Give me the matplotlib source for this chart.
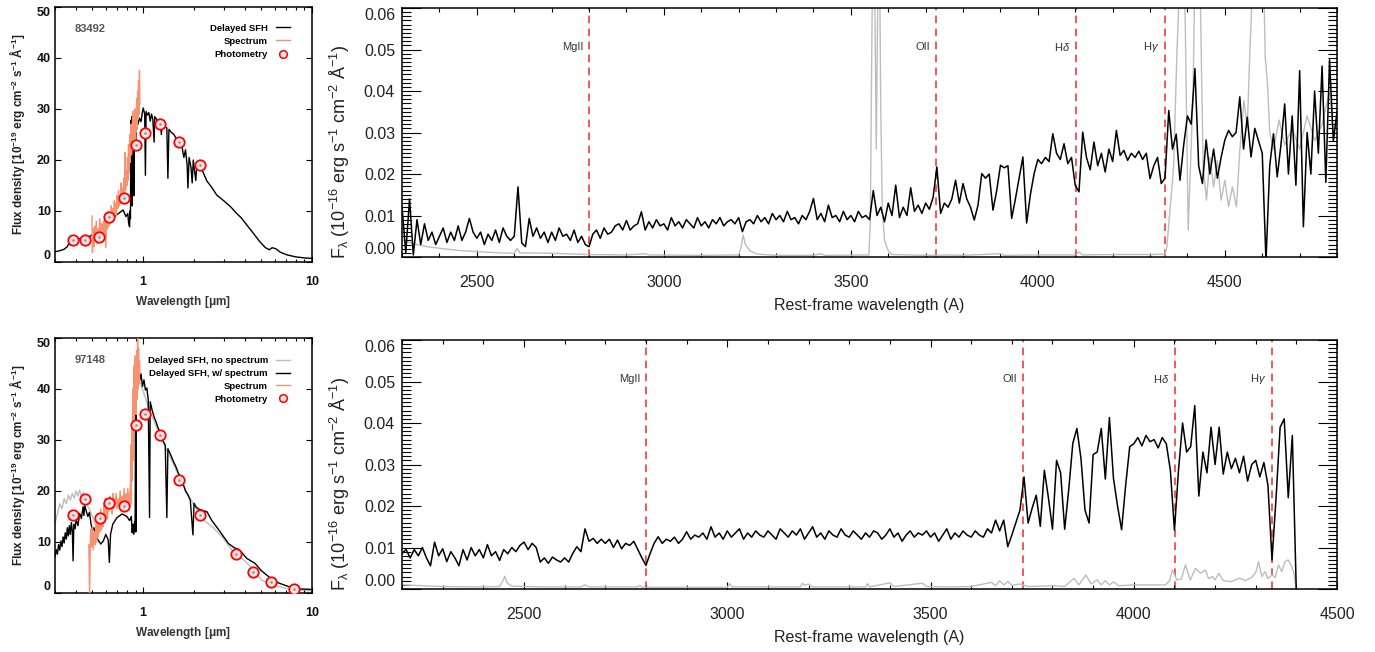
import numpy as np
import matplotlib
matplotlib.use('Agg')
import matplotlib.pyplot as plt
from matplotlib.ticker import (MultipleLocator, FixedLocator, FixedFormatter,
                               NullFormatter, LogLocator, FormatStrFormatter)
from matplotlib.lines import Line2D

plt.rcParams['font.family'] = ['Liberation Sans', 'DejaVu Sans']
plt.rcParams['mathtext.fontset'] = 'custom'
plt.rcParams['mathtext.rm'] = 'Liberation Sans'
plt.rcParams['mathtext.it'] = 'Liberation Sans:italic'
plt.rcParams['mathtext.bf'] = 'Liberation Sans:bold'
plt.rcParams['mathtext.default'] = 'regular'

ORANGE = '#f5926f'
GREY = '#bdbdbd'
RED = '#f02b2b'

# ---------------- galaxy 83492: SED (micron, 1e-19 erg/cm2/s/A) ----------------
tl_model = [(0.30, 2.0), (0.32, 2.2), (0.34, 2.5), (0.355, 3.0), (0.365, 3.9), (0.37, 3.3),
            (0.38, 4.0), (0.40, 4.2), (0.42, 4.6), (0.44, 4.4), (0.46, 4.9), (0.48, 5.0),
            (0.50, 5.3), (0.53, 5.9), (0.56, 6.5), (0.60, 7.3), (0.64, 8.2), (0.68, 9.0),
            (0.72, 9.6), (0.76, 10.2), (0.79, 8.9), (0.81, 9.5), (0.82, 7.5), (0.83, 6.9),
            (0.835, 10.0), (0.84, 8.5), (0.845, 27.8), (0.85, 25.0), (0.855, 28.5), (0.86, 11.0),
            (0.865, 27.0), (0.875, 28.6), (0.88, 13.0), (0.885, 28.0), (0.895, 27.0), (0.90, 22.0),
            (0.91, 27.5), (0.93, 27.0), (0.95, 28.2), (0.97, 27.5), (0.99, 29.5), (1.00, 30.2),
            (1.02, 29.0), (1.03, 17.0), (1.04, 29.5), (1.06, 28.8), (1.08, 29.3), (1.10, 27.6),
            (1.12, 29.0), (1.14, 28.0), (1.16, 23.5), (1.17, 28.5), (1.20, 28.0), (1.23, 27.3),
            (1.26, 27.8), (1.28, 25.0), (1.30, 27.2), (1.34, 26.5), (1.38, 26.3), (1.40, 16.4),
            (1.42, 26.0), (1.46, 25.5), (1.52, 25.0), (1.58, 24.0), (1.64, 23.2), (1.70, 22.5),
            (1.74, 20.5), (1.78, 22.0), (1.82, 19.0), (1.84, 14.5), (1.87, 20.5), (1.92, 18.5),
            (1.95, 15.5), (1.98, 20.0), (2.02, 17.5), (2.05, 16.0), (2.08, 19.5), (2.15, 19.2),
            (2.25, 17.8), (2.38, 15.9), (2.55, 14.6), (2.73, 13.1), (3.0, 12.0), (3.3, 10.8),
            (3.58, 9.5), (3.8, 8.7), (4.1, 7.3), (4.5, 5.6), (4.9, 4.0), (5.3, 2.8), (5.6, 2.4),
            (5.8, 2.8), (6.1, 2.6), (6.5, 1.9), (7.1, 1.4), (8.0, 1.0), (9.0, 0.8), (10.0, 0.7)]

tl_spec = [(0.497, 9.0), (0.50, 1.8), (0.505, 6.5), (0.51, 3.0), (0.515, 7.0), (0.52, 4.0),
           (0.527, 8.0), (0.533, 3.5), (0.54, 6.5), (0.546, 4.5), (0.553, 8.5), (0.56, 5.0),
           (0.566, 7.5), (0.572, 4.0), (0.58, 8.0), (0.587, 5.5), (0.594, 9.0), (0.60, 2.8),
           (0.607, 8.5), (0.614, 6.5), (0.62, 10.0), (0.627, 7.0), (0.634, 9.5), (0.64, 7.5),
           (0.647, 11.0), (0.654, 8.5), (0.66, 10.5), (0.667, 8.0), (0.674, 12.0), (0.68, 9.5),
           (0.687, 11.5), (0.694, 9.0), (0.70, 13.0), (0.707, 10.5), (0.714, 14.0), (0.72, 11.0),
           (0.727, 13.0), (0.734, 11.5), (0.74, 15.5), (0.747, 12.5), (0.754, 14.5), (0.76, 12.0),
           (0.767, 16.5), (0.774, 13.0), (0.78, 21.5), (0.786, 14.0), (0.792, 18.0), (0.80, 15.0),
           (0.806, 20.5), (0.812, 16.0), (0.818, 23.0), (0.825, 17.5), (0.832, 25.0), (0.838, 19.5),
           (0.845, 27.0), (0.852, 21.0), (0.86, 25.5), (0.866, 29.6), (0.872, 22.0), (0.878, 28.5),
           (0.884, 24.0), (0.89, 30.0), (0.896, 23.0), (0.902, 29.0), (0.908, 25.5), (0.914, 32.0),
           (0.92, 26.0), (0.926, 33.5), (0.932, 28.0), (0.938, 35.5), (0.944, 29.0), (0.95, 37.5),
           (0.955, 31.0)]

tl_phot_wave = [0.384, 0.449, 0.549, 0.629, 0.769, 0.909, 1.018, 1.249, 1.633, 2.175]
tl_phot_flux = [4.3, 4.4, 4.8, 8.8, 12.5, 23.0, 25.2, 27.1, 23.5, 19.1]

# ---------------- galaxy 97148: SED ----------------
bl_nospec = [(0.30, 13.7), (0.31, 15.5), (0.32, 17.5), (0.33, 16.5), (0.34, 18.5), (0.35, 17.5),
             (0.36, 19.2), (0.37, 18.2), (0.38, 19.5), (0.39, 18.6), (0.40, 20.0), (0.41, 19.0),
             (0.42, 20.2), (0.43, 18.8), (0.44, 19.8), (0.45, 18.7), (0.46, 17.9), (0.47, 17.0),
             (0.48, 16.4), (0.50, 15.0), (0.52, 13.6), (0.54, 13.2), (0.56, 14.2), (0.58, 15.6),
             (0.60, 17.0), (0.62, 18.0), (0.64, 18.6), (0.66, 18.2), (0.70, 17.6), (0.75, 17.2),
             (0.80, 17.6), (0.84, 17.0), (0.86, 29.0), (0.88, 37.5), (0.90, 41.5), (0.92, 43.5),
             (0.95, 41.5), (1.0, 39.5), (1.1, 35.5), (1.2, 32.5), (1.3, 29.8), (1.5, 25.5),
             (1.7, 21.5), (2.0, 17.2), (2.3, 14.2), (2.6, 12.8), (3.0, 10.6), (3.4, 8.1),
             (4.0, 6.3), (4.5, 4.6), (5.0, 2.6), (5.5, 1.9), (6.0, 1.5), (7.0, 0.9), (8.0, 0.6),
             (10.0, 0.4)]

bl_model = [(0.30, 7.1), (0.305, 8.5), (0.31, 7.6), (0.315, 9.5), (0.32, 8.4), (0.325, 10.2),
            (0.33, 9.1), (0.335, 11.0), (0.34, 9.8), (0.345, 11.8), (0.35, 10.6), (0.355, 12.8),
            (0.36, 11.2), (0.365, 13.2), (0.37, 11.5), (0.375, 13.8), (0.38, 12.2), (0.384, 6.3),
            (0.388, 13.5), (0.395, 12.6), (0.40, 14.5), (0.41, 13.2), (0.42, 15.6), (0.43, 14.6),
            (0.44, 16.9), (0.445, 15.2), (0.45, 17.2), (0.46, 16.0), (0.47, 15.0), (0.48, 15.8),
            (0.49, 13.6), (0.50, 12.4), (0.51, 12.8), (0.52, 11.2), (0.54, 10.4), (0.56, 9.6),
            (0.58, 10.2), (0.60, 11.5), (0.62, 10.4), (0.63, 6.0), (0.64, 11.5), (0.66, 13.5),
            (0.70, 14.8), (0.75, 15.5), (0.80, 15.0), (0.83, 14.2), (0.85, 15.0), (0.86, 11.8),
            (0.87, 13.5), (0.88, 11.5), (0.89, 14.0), (0.895, 12.0), (0.90, 36.0), (0.905, 12.0),
            (0.91, 42.0), (0.918, 45.4), (0.925, 40.5), (0.935, 43.5), (0.95, 41.5), (0.97, 43.0),
            (0.99, 40.5), (1.01, 41.8), (1.03, 39.8), (1.05, 40.2), (1.07, 38.0), (1.09, 14.8),
            (1.10, 37.5), (1.13, 35.8), (1.16, 34.5), (1.19, 33.6), (1.22, 32.5), (1.25, 31.8),
            (1.28, 30.5), (1.31, 29.8), (1.35, 29.0), (1.38, 14.8), (1.40, 28.3), (1.45, 27.2),
            (1.50, 26.0), (1.56, 24.8), (1.62, 23.4), (1.66, 22.8), (1.72, 21.5), (1.78, 20.0),
            (1.84, 19.2), (1.90, 18.2), (1.97, 11.4), (2.00, 17.6), (2.06, 16.8), (2.15, 16.4),
            (2.25, 16.2), (2.39, 15.9), (2.55, 14.2), (2.8, 12.4), (3.0, 11.0), (3.2, 9.7),
            (3.45, 8.9), (3.65, 8.6), (3.8, 8.1), (4.1, 6.8), (4.6, 5.8), (5.0, 4.4), (5.4, 3.5),
            (5.8, 2.7), (6.3, 2.0), (6.8, 1.6), (7.5, 1.1), (8.5, 0.8), (10.0, 0.7)]

bl_spec = [(0.476, 9.5), (0.481, -0.5), (0.486, 10.5), (0.49, 12.5), (0.495, 9.0), (0.50, 13.0),
           (0.506, 8.5), (0.512, 12.0), (0.518, 9.5), (0.524, 13.5), (0.53, 10.0), (0.536, 14.0),
           (0.542, 11.0), (0.548, 15.0), (0.554, 12.0), (0.56, 16.5), (0.566, 12.5), (0.572, 15.5),
           (0.578, 13.0), (0.584, 17.5), (0.59, 14.0), (0.596, 18.5), (0.602, 15.0), (0.608, 17.0),
           (0.614, 14.5), (0.62, 18.5), (0.627, 16.0), (0.634, 19.0), (0.64, 16.5), (0.647, 18.0),
           (0.654, 15.5), (0.66, 19.5), (0.667, 16.5), (0.674, 18.5), (0.68, 17.0), (0.69, 19.5),
           (0.70, 16.5), (0.71, 18.5), (0.72, 17.0), (0.73, 20.0), (0.74, 16.5), (0.75, 19.0),
           (0.76, 17.5), (0.77, 20.5), (0.78, 16.0), (0.79, 19.5), (0.80, 17.0), (0.81, 20.5),
           (0.82, 16.5), (0.83, 19.5), (0.84, 21.0), (0.845, 29.0), (0.85, 17.5), (0.855, 33.0),
           (0.86, 22.0), (0.866, 40.0), (0.872, 26.0), (0.878, 44.5), (0.884, 33.0), (0.89, 46.5),
           (0.896, 37.0), (0.902, 44.0), (0.908, 35.0), (0.914, 47.5), (0.92, 38.0), (0.926, 50.5),
           (0.932, 40.0), (0.938, 48.0), (0.944, 41.0), (0.95, 45.5), (0.955, 43.0)]

bl_phot_wave = [0.385, 0.449, 0.552, 0.629, 0.769, 0.909, 1.018, 1.249, 1.633, 2.175,
                3.53, 4.46, 5.70, 7.82]
bl_phot_flux = [15.2, 18.4, 14.8, 17.6, 17.1, 32.9, 35.0, 31.0, 22.1, 15.2,
                7.6, 4.2, 2.1, 0.8]

# ---------------- rest-frame spectra (1e-3 x 1e-16 erg/s/cm2/A), 10 A bins ----------------
tr_wave = np.arange(2300, 4801, 10)
tr_flux = [12, 1, 14, 0.5, 9, 3, 8, 4, 6, 3,
           5, 7, 3.5, 6, 4, 7.5, 4, 6, 9.3, 6,
           4.5, 6, 3, 5.5, 4, 6.5, 3.5, 7, 5, 4,
           5, 16.9, 3.4, 2.5, 9.3, 5, 7, 4.5, 6, 3.5,
           6, 4, 7, 5, 5.5, 4, 6.5, 3.5, 5, 3,
           2.5, 5.5, 6.5, 4.5, 7, 5.5, 6, 7.5, 8, 6.5,
           8.8, 6.5, 7.5, 8, 10.9, 6.5, 8.5, 7, 9, 7.5,
           8, 6.5, 9.5, 7.5, 8.5, 7, 9, 8, 7, 9.5,
           7.5, 8.5, 7, 9, 8, 9.5, 7.5, 8.5, 9, 8,
           9.5, 6.1, 8.5, 9, 8, 10, 8.5, 9.5, 8, 10.5,
           9, 10, 8.5, 11, 9, 9.5, 8, 10, 9, 11,
           14.1, 9, 10.5, 8.5, 12.5, 9.5, 10, 8.5, 11, 9,
           10, 8.5, 11, 9.5, 10, 9, 16, 10, 12, 8.5,
           13, 10, 17.3, 9.5, 12, 10, 16.7, 11, 12.5, 10.5,
           13, 11.5, 14.4, 21.7, 10.5, 13, 12, 14, 18.5, 13,
           17.7, 14, 12, 8.9, 12.5, 20.1, 19, 20, 11.3, 16,
           22.1, 21.5, 22, 9.3, 14, 19, 24.1, 8.2, 15, 20.1,
           23.5, 22.5, 24, 23, 29.7, 25, 23.5, 27.3, 22.5, 24,
           17.3, 15.7, 30.1, 24, 21, 27.7, 22, 25, 20.5, 26,
           23, 30.5, 24.5, 25.7, 23.3, 25, 24, 25.5, 23.5, 25,
           18.9, 22, 24, 17.7, 19, 35.3, 26, 29.6, 18.5, 27,
           34, 32, 45.4, 22, 17.7, 28.2, 20, 26, 19, 24,
           28.2, 30.5, 29, 30, 38.6, 26, 33.7, 24.1, 31, 28,
           25, -1, 22, 29.7, 19.3, 27, 36.9, 20, 34, 17.3,
           44.9, 7.3, 30, 20, 40, 25, 46, 18, 47.5, 28,
           35]

tr_noise = [(2300, 4.1), (2330, 3.2), (2360, 2.6), (2400, 2.1), (2450, 1.6), (2500, 1.3),
            (2560, 1.0), (2600, 0.9), (2607, 2.1), (2615, 1.0), (2700, 0.9), (2800, 0.6),
            (2900, 0.5), (2950, 0.8), (2960, 0.5), (3100, 0.4), (3200, 0.5), (3207, 2.5),
            (3212, 5.3), (3218, 3.0), (3230, 1.5), (3250, 0.7), (3300, 0.4), (3400, 0.4),
            (3420, 0.8), (3430, 0.4), (3548, 0.5), (3552, 8), (3555, 40), (3558, 70), (3563, 70),
            (3566, 45), (3568, 26), (3570, 45), (3573, 70), (3577, 70), (3580, 35), (3584, 12),
            (3590, 4), (3600, 1.5), (3610, 0.6), (3700, 0.4), (3760, 0.5), (3800, 0.4),
            (3900, 0.8), (3910, 0.4), (4000, 0.5), (4100, 0.5), (4110, 1.2), (4120, 0.5),
            (4200, 0.6), (4300, 0.6), (4340, 0.7), (4345, 2.5), (4363, 21.7), (4372, 49.8),
            (4381, 70), (4390, 70), (4394, 57), (4402, 6.5), (4415, 39.3), (4420, 70), (4433, 70),
            (4442, 21.7), (4451, 13.7), (4460, 24.1), (4470, 16.9), (4480, 23.3), (4490, 13.7),
            (4500, 18.5), (4510, 12.1), (4520, 16.9), (4531, 12.1), (4540, 25.7), (4551, 37.7),
            (4560, 31.3), (4567, 49.8), (4576, 70), (4603, 70), (4608, 48.2), (4614, 41.8),
            (4620, 30), (4630, 26), (4645, 33), (4660, 27), (4680, 31), (4700, 26), (4720, 34),
            (4740, 28), (4760, 32), (4780, 40), (4790, 30), (4800, 33)]

br_wave = np.arange(2200, 4401, 10)
br_flux = [8.6, 9.5, 7.5, 9.5, 8, 10, 7.5, 5.6, 11.3, 8,
           9.7, 6.6, 9, 7.5, 5.6, 9.5, 7, 10, 8, 9.5,
           7.5, 10.7, 8, 9, 6.9, 9.5, 8.5, 10, 9, 10.5,
           11.3, 9.5, 11, 10, 6.5, 7.5, 6.2, 7.7, 7, 6.5,
           7.5, 6.5, 8.6, 10.2, 9, 14.5, 11.5, 12.2, 11, 12,
           11, 12, 10, 11.8, 9.7, 11, 10.5, 11.5, 9.5, 7.5,
           5.7, 8.5, 11, 12.6, 11, 12, 11.5, 12.5, 11, 12,
           13.8, 12, 13, 12.5, 13.5, 12, 15, 12.5, 13.5, 12,
           14, 12.5, 13.5, 14.5, 12, 13.5, 12.5, 14, 13, 12.5,
           14, 13, 12, 14.5, 13.5, 12.5, 14, 13, 14.5, 12,
           13.5, 15, 12.5, 13.5, 12, 14, 13, 12.5, 14.5, 13,
           12.5, 14, 13, 12, 13.5, 12.5, 14, 13.5, 12, 13,
           14.5, 12.5, 13.5, 11.5, 13, 14, 12.5, 13.5, 13, 14,
           12.5, 13.5, 11.5, 13, 14.5, 12, 13.5, 12.5, 14, 13,
           12.5, 14, 13, 12.5, 14.5, 13.5, 16.6, 14, 16.6, 10.2,
           13, 16, 19, 27, 15.9, 19.5, 22.6, 15.1, 28.6, 22,
           14.4, 31, 28, 14.4, 24, 35.1, 38.7, 31.5, 19, 15.9,
           32.4, 33, 38.7, 26.5, 41.3, 26.7, 20, 14.3, 25, 34.3,
           35, 36.5, 34.5, 37, 35.5, 36, 34, 36.5, 35, 28.6,
           14.2, 28.6, 40, 33, 34.3, 44.2, 22.4, 33, 28, 39,
           30, 39, 27.7, 33, 29, 31.5, 28, 32, 26, 30,
           31, 27, 30.5, 25, 7, 22, 39, 41, 22, 37,
           -1.5]

br_noise = [(2200, 1.0), (2250, 0.8), (2300, 0.6), (2400, 0.5), (2440, 0.6), (2448, 2.0),
            (2453, 3.1), (2458, 1.5), (2470, 0.7), (2550, 0.5), (2640, 0.5), (2650, 1.0),
            (2660, 0.5), (2780, 0.5), (2785, 0.9), (2790, 0.4), (3000, 0.4), (3006, 1.3),
            (3012, 0.5), (3180, 0.5), (3185, 1.4), (3190, 0.9), (3200, 1.2), (3210, 0.5),
            (3340, 0.5), (3345, 1.3), (3350, 0.5), (3400, 1.5), (3410, 0.6), (3480, 1.4),
            (3490, 0.6), (3550, 0.5), (3600, 0.6), (3650, 1.6), (3660, 0.8), (3670, 2.0),
            (3680, 1.0), (3690, 1.8), (3700, 0.9), (3720, 1.2), (3740, 0.6), (3800, 0.8),
            (3830, 0.6), (3853, 2.6), (3865, 1.0), (3882, 3.4), (3895, 1.2), (3910, 2.2),
            (3920, 1.0), (3930, 2.0), (3940, 1.0), (3950, 1.7), (3963, 0.8), (4000, 1.0),
            (4078, 1.0), (4088, 2.0), (4095, 4.6), (4106, 2.2), (4117, 2.4), (4127, 5.8),
            (4139, 2.2), (4152, 5.0), (4164, 3.8), (4176, 4.6), (4184, 2.5), (4193, 3.0),
            (4200, 2.2), (4209, 3.8), (4220, 2.0), (4240, 1.8), (4260, 2.6), (4275, 2.0),
            (4290, 2.8), (4300, 4.0), (4307, 6.6), (4315, 3.0), (4323, 4.2), (4330, 2.5),
            (4340, 3.4), (4348, 2.8), (4356, 5.8), (4364, 4.2), (4372, 6.6), (4380, 7.0),
            (4388, 5.5), (4393, 4.2), (4397, 1.8), (4400, 0.0)]

line_waves = [2800, 3727, 4102, 4340]
line_names = ['MgII', 'OII', 'H$\\mathit{\\delta}$', 'H$\\mathit{\\gamma}$']


def pairs(p):
    a = np.array(p, dtype=float)
    return a[:, 0], a[:, 1]


def style_sed(ax, name):
    ax.set_xscale('log')
    ax.set_xlim(0.3, 10)
    ax.set_ylim(0, 50)
    ax.xaxis.set_major_locator(FixedLocator([1, 10]))
    ax.xaxis.set_major_formatter(FixedFormatter(['1', '10']))
    ax.xaxis.set_minor_locator(LogLocator(subs=np.arange(2, 10)))
    ax.xaxis.set_minor_formatter(NullFormatter())
    ax.yaxis.set_major_locator(FixedLocator([0, 10, 20, 30, 40, 50]))
    ax.tick_params(which='both', direction='in', top=True, right=True, width=0.8,
                   labelsize=9, labelcolor='#111111')
    ax.tick_params(which='major', length=4)
    ax.tick_params(which='minor', length=2)
    ax.tick_params(axis='x', pad=10)
    ax.tick_params(axis='y', pad=3)
    for t in ax.xaxis.get_major_ticks() + ax.yaxis.get_major_ticks():
        t.label1.set_fontweight('bold')
    yt = ax.yaxis.get_major_ticks()
    yt[0].label1.set_va('bottom')
    yt[-1].label1.set_va('top')
    for s in ax.spines.values():
        s.set_linewidth(1.1)
    ax.set_xlabel('Wavelength [$\\mu$m]', fontsize=8.5, fontweight='bold', color='#333333')
    ax.xaxis.set_label_coords(0.5, -0.125)
    ax.set_ylabel('Flux density [10$^{-19}$ erg cm$^{-2}$ s$^{-1}$ Å$^{-1}$]',
                  fontsize=8.5, fontweight='bold', color='#222222')
    ax.yaxis.set_label_coords(-0.108, 0.5)
    ax.text(0.075, 0.915, name, transform=ax.transAxes, fontsize=8, fontweight='bold',
            color='#555555', va='center')


def style_spec(ax, x0, x1):
    ax.set_xlim(x0, x1)
    ax.set_ylim(0, 0.06)
    ax.xaxis.set_major_locator(MultipleLocator(500))
    ax.xaxis.set_minor_locator(MultipleLocator(100))
    ax.yaxis.set_major_locator(FixedLocator(np.linspace(0, 0.06, 7)))
    ax.yaxis.set_major_formatter(FormatStrFormatter('%.2f'))
    ax.yaxis.set_minor_locator(MultipleLocator(0.001))
    ax.tick_params(which='both', direction='in', top=True, right=True, width=0.8,
                   labelsize=11.5, labelcolor='#222222')
    ax.tick_params(axis='y', which='major', length=13.5, pad=5)
    ax.tick_params(axis='y', which='minor', length=6.5)
    ax.tick_params(axis='x', which='major', length=5, pad=13)
    ax.tick_params(axis='x', which='minor', length=2.8)
    yt = ax.yaxis.get_major_ticks()
    yt[0].label1.set_va('bottom')
    yt[-1].label1.set_va('top')
    for s in ax.spines.values():
        s.set_linewidth(1.1)
    ax.set_xlabel('Rest-frame wavelength (A)', fontsize=11.5, color='#222222')
    ax.xaxis.set_label_coords(0.5, -0.165)
    ax.set_ylabel('F$_\\lambda$ (10$^{-16}$ erg s$^{-1}$ cm$^{-2}$ Å$^{-1}$)',
                  fontsize=13, color='#222222')
    ax.yaxis.set_label_coords(-0.053, 0.42)
    for w, name in zip(line_waves, line_names):
        ax.axvline(w, color=RED, lw=1.1, ls=(0, (5, 3.5)), zorder=1)
        ax.annotate(name, xy=(w, 0.0507), xytext=(-4, 0), textcoords='offset points',
                    ha='right', va='center', fontsize=8, color='#333333')


def draw_phot(ax, w, f):
    ax.plot(w, f, 'o', ms=7.5, mfc='#ffe4e4', mec='red', mew=1.3, zorder=5)
    ax.plot(w, f, '.', ms=2, color='#999999', zorder=6)


fig = plt.figure(figsize=(13.75, 6.52), dpi=100)
ax_tl = fig.add_axes([0.0400, 0.5982, 0.1869, 0.3911])
ax_tr = fig.add_axes([0.2924, 0.6058, 0.6800, 0.3819])
ax_bl = fig.add_axes([0.0400, 0.0905, 0.1869, 0.3911])
ax_br = fig.add_axes([0.2924, 0.0966, 0.6800, 0.3819])

phot_handle = Line2D([], [], ls='none', marker='o', ms=5.5, mfc='#ffe4e4', mec='red', mew=1.1)

# top-left SED
w, f = pairs(tl_model)
ax_tl.plot(w, f, color='black', lw=1.0, zorder=2)
w, f = pairs(tl_spec)
ax_tl.plot(w, f, color=ORANGE, lw=1.0, zorder=3)
draw_phot(ax_tl, tl_phot_wave, tl_phot_flux)
style_sed(ax_tl, '83492')
ax_tl.legend([Line2D([], [], color='black', lw=1.0), Line2D([], [], color=ORANGE, lw=1.0), phot_handle],
             ['Delayed SFH', 'Spectrum', 'Photometry'], loc='upper right',
             bbox_to_anchor=(0.915, 0.935), borderpad=0, borderaxespad=0, frameon=False,
             markerfirst=False, handlelength=1.45, handletextpad=0.9, labelspacing=0.45,
             prop={'weight': 'bold', 'size': 6.8})

# bottom-left SED
w, f = pairs(bl_nospec)
ax_bl.plot(w, f, color=GREY, lw=1.0, zorder=1)
w, f = pairs(bl_model)
ax_bl.plot(w, f, color='black', lw=1.0, zorder=2)
w, f = pairs(bl_spec)
ax_bl.plot(w, f, color=ORANGE, lw=1.0, zorder=3)
draw_phot(ax_bl, bl_phot_wave, bl_phot_flux)
style_sed(ax_bl, '97148')
ax_bl.legend([Line2D([], [], color=GREY, lw=1.0), Line2D([], [], color='black', lw=1.0),
              Line2D([], [], color=ORANGE, lw=1.0), phot_handle],
             ['Delayed SFH, no spectrum', 'Delayed SFH, w/ spectrum', 'Spectrum', 'Photometry'],
             loc='upper right', bbox_to_anchor=(0.915, 0.93), borderpad=0, borderaxespad=0,
             frameon=False, markerfirst=False, handlelength=1.45, handletextpad=0.9,
             labelspacing=0.42, prop={'weight': 'bold', 'size': 6.8})

# top-right spectrum
w, f = pairs(tr_noise)
ax_tr.plot(w, f * 1e-3, color=GREY, lw=1.0, zorder=2)
ax_tr.plot(tr_wave, np.array(tr_flux) * 1e-3, color='black', lw=1.1, zorder=3)
style_spec(ax_tr, 2300, 4800)

# bottom-right spectrum
w, f = pairs(br_noise)
ax_br.plot(w, f * 1e-3, color=GREY, lw=1.0, zorder=2)
ax_br.plot(br_wave, np.array(br_flux) * 1e-3, color='black', lw=1.1, zorder=3)
style_spec(ax_br, 2200, 4500)

fig.savefig('out.png', dpi=100)
